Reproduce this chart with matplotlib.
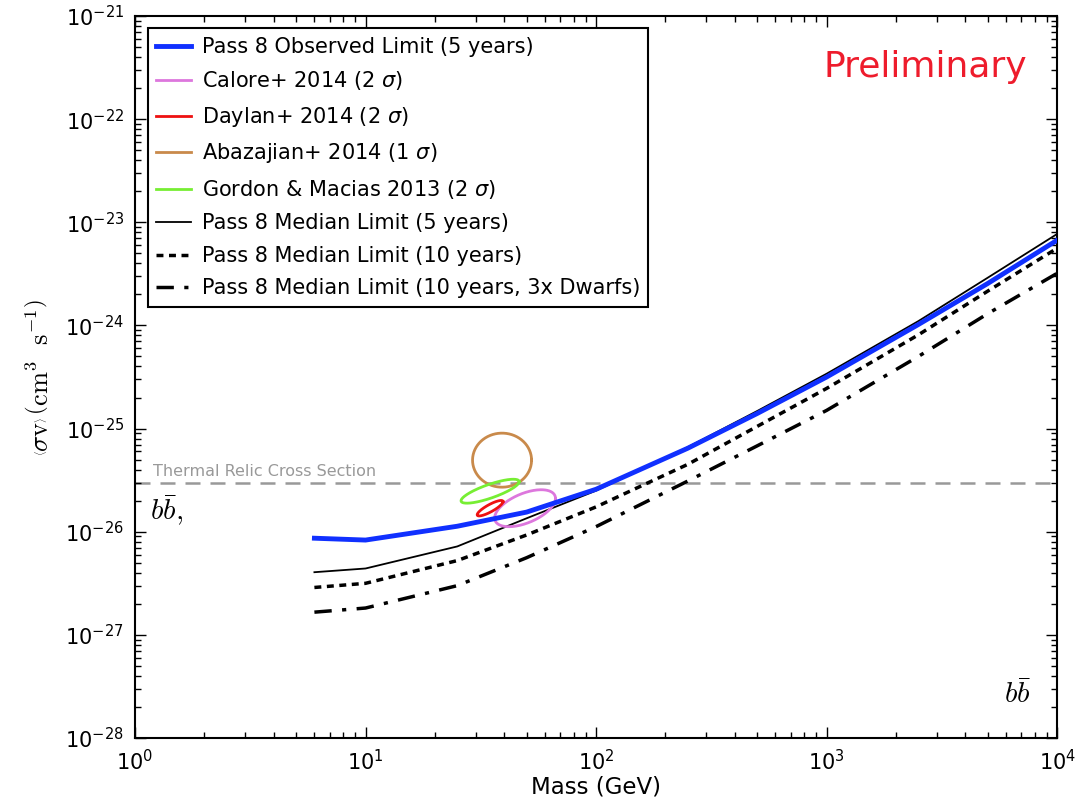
"""
Fermi-LAT dwarf limits vs. Galactic Center excess fits (b bbar channel)
"""

import numpy as np
import matplotlib
matplotlib.use('Agg')
import matplotlib.pyplot as plt

# masses where the limit curves are sampled (GeV)
mass = [6, 10, 25, 50, 100, 250, 500, 1000, 2500, 5000, 10000]

# <sigma v> limits (cm^3 s^-1)
obs_5yr = [8.65e-27, 8.3e-27, 1.13e-26, 1.55e-26, 2.58e-26, 6.45e-26,
           1.4e-25, 3.16e-25, 1.02e-24, 2.55e-24, 6.7e-24]
median_5yr = [4.05e-27, 4.4e-27, 7.2e-27, 1.35e-26, 2.5e-26, 6.6e-26,
              1.48e-25, 3.4e-25, 1.1e-24, 2.9e-24, 7.7e-24]
median_10yr = [2.88e-27, 3.16e-27, 5.25e-27, 9.3e-27, 1.74e-26, 4.5e-26,
               1.05e-25, 2.45e-25, 8.1e-25, 2.15e-24, 5.6e-24]
median_10yr_3x = [1.66e-27, 1.82e-27, 3.0e-27, 5.6e-27, 1.12e-26, 3.1e-26,
                  6.8e-26, 1.5e-25, 5.0e-25, 1.3e-24, 3.2e-24]

thermal_relic = 3e-26

# GC excess contours: centre mass, centre <sigma v>, x/y half extents (decades), tilt phase (deg)
gc_labels = ['Calore+ 2014 ($2\\ \\sigma$)', 'Daylan+ 2014 ($2\\ \\sigma$)',
             'Abazajian+ 2014 ($1\\ \\sigma$)', 'Gordon & Macias 2013 ($2\\ \\sigma$)']
gc_colors = ['#dd77dd', '#ee1111', '#c98a4b', '#77ee33']
gc_mass = [49.2, 34.7, 39.1, 34.7]
gc_sigv = [1.69e-26, 1.69e-26, 4.94e-26, 2.47e-26]
gc_rx = [0.132, 0.056, 0.128, 0.126]
gc_ry = [0.179, 0.075, 0.262, 0.116]
gc_phase = [32, 58, 0, 53]

x_decades = [1, 10, 100, 1000, 10000]
y_decades = [1e-28, 1e-27, 1e-26, 1e-25, 1e-24, 1e-23, 1e-22, 1e-21]

fig = plt.figure(figsize=(10.81, 8.11), dpi=100)
ax = fig.add_axes([0.1249, 0.09, 0.853, 0.8903])

ax.plot(mass, obs_5yr, color='#1030ff', lw=3.5, label='Pass 8 Observed Limit (5 years)', zorder=5)

t = np.linspace(0, 2 * np.pi, 200)
for lab, c, m, s, rx, ry, ph in zip(gc_labels, gc_colors, gc_mass, gc_sigv, gc_rx, gc_ry, gc_phase):
    lx = np.log10(m) + rx * np.cos(t)
    ly = np.log10(s) + ry * np.sin(t + np.radians(ph))
    ax.plot(10 ** lx, 10 ** ly, color=c, lw=2, label=lab, zorder=4)

ax.plot(mass, median_5yr, color='black', lw=1.3, label='Pass 8 Median Limit (5 years)')
ax.plot(mass, median_10yr, color='black', lw=2.5, dashes=(2, 1.6),
        label='Pass 8 Median Limit (10 years)')
ax.plot(mass, median_10yr_3x, color='black', lw=2.5, dashes=(5, 3, 1.2, 3),
        label='Pass 8 Median Limit (10 years, 3x Dwarfs)')

ax.axhline(thermal_relic, color='#999999', lw=1.8, dashes=(6, 4), zorder=1)
ax.text(1.2, 3.25e-26, 'Thermal Relic Cross Section', color='#999999',
        fontsize=11.5, va='bottom', ha='left')

ax.set_xscale('log')
ax.set_yscale('log')
ax.set_xticks(x_decades)
ax.set_yticks(y_decades)
ax.set_xlim(x_decades[0], x_decades[-1])
ax.set_ylim(y_decades[0], y_decades[-1])

ax.tick_params(which='both', direction='in', top=True, right=True, labelsize=15)
ax.tick_params(which='major', length=8, width=1, pad=8)
ax.tick_params(which='minor', length=4, width=1)
for sp in ax.spines.values():
    sp.set_linewidth(1.5)

ax.set_xlabel('Mass (GeV)', fontsize=16.5, labelpad=1)
ax.set_ylabel(r'$\left\langle\sigma\mathrm{v}\right\rangle\,\left(\mathrm{cm}^3\ \ \mathrm{s}^{-1}\right)$',
              fontsize=19, math_fontfamily='cm', labelpad=8)

ax.text(0.016, 0.302, r'$b\bar{b},$', transform=ax.transAxes, fontsize=21,
        math_fontfamily='cm', ha='left', va='baseline')
ax.text(0.972, 0.048, r'$b\bar{b}$', transform=ax.transAxes, fontsize=21,
        math_fontfamily='cm', ha='right', va='baseline')
ax.text(0.968, 0.93, 'Preliminary', transform=ax.transAxes, fontsize=26,
        color='#ee1c2c', ha='right', va='center')

leg = ax.legend(loc='upper left', fontsize=15, handlelength=1.7, fancybox=False,
                framealpha=1, edgecolor='black', labelspacing=0.6,
                borderaxespad=0.6, handletextpad=0.5)
leg.get_frame().set_linewidth(1.5)

plt.savefig('out.png', dpi=100)
plt.close()
